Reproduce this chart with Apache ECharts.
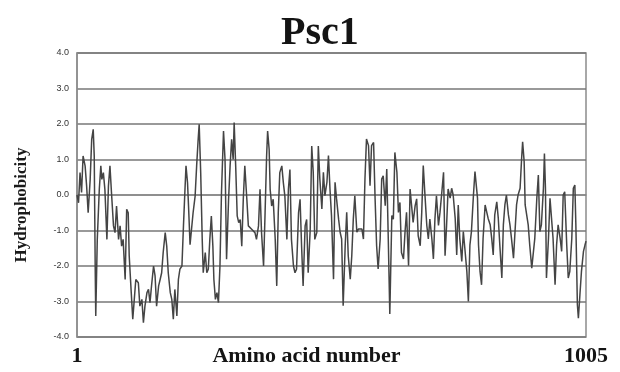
<!DOCTYPE html>
<html>
<head>
<meta charset="utf-8">
<script src="https://cdn.jsdelivr.net/npm/echarts@6/dist/echarts.min.js"></script>
<style>html,body{margin:0;padding:0;background:#fff;}#c{width:620px;height:372px;}</style>
</head>
<body>
<div id="c"></div>
<script>
const titleText = 'Psc1';
const xName = 'Amino acid number';
const yName = 'Hydrophobicity';
const xTickValues = [1, 1005];
const yTicks = [-4, -3, -2, -1, 0, 1, 2, 3, 4];

const residues = [
1,4,7,10,13,17,20,23,27,30,33,35,37,38,41,45,48,50,53,56,60,63,66,69,73,76,79,83,86,89,92,96,99,102,104,108,111,114,117,122,125,129,132,135,139,142,145,148,152,155,158,162,165,168,171,175,178,181,185,188,191,194,198,201,204,208,211,214,216,219,221,224,227,230,234,237,240,242,
245,248,250,254,257,260,263,266,269,271,274,277,280,283,286,290,293,296,300,303,306,309,311,314,317,320,323,326,329,332,336,339,342,346,349,352,355,359,362,365,369,372,375,377,380,382,385,388,392,395,398,401,405,408,411,415,418,421,424,428,431,434,438,441,444,447,451,454,457,461,464,467,470,474,477,
480,484,487,490,494,497,500,503,507,510,513,517,520,523,526,530,533,536,540,543,546,549,553,556,559,563,566,569,572,576,579,582,586,589,592,595,599,602,605,609,612,615,618,622,625,628,632,635,638,641,645,648,651,655,658,661,664,668,671,674,678,681,684,687,691,694,697,701,704,707,710,714,717,720,724,727,730,733,
737,740,743,747,750,753,756,760,763,766,770,773,776,779,783,786,788,791,793,796,799,802,806,809,812,816,819,822,825,829,832,835,839,842,845,848,852,855,858,862,865,868,871,875,878,880,883,885,888,891,894,898,901,904,908,911,914,917,921,923,925,927,931,934,937,940,944,947,950,954,957,960,963,967,970,973,977,980,983,985,988,990,993,996,1000,1003,1005
];
const hydro = [
0.0,-0.22,0.63,0.07,1.10,0.82,0.25,-0.50,0.44,1.57,1.85,1.10,-2.19,-3.41,-1.25,0.16,0.82,0.44,0.63,0.16,-1.25,0.25,0.82,0.07,-0.87,-1.06,-0.31,-1.25,-0.87,-1.44,-1.25,-2.38,-0.40,-0.50,-1.72,-2.75,-3.50,-2.94,-2.38,-2.47,-3.13,-2.94,-3.60,-3.13,-2.75,-2.66,-3.03,-2.56,-2.00,-2.28,-3.13,-2.56,-2.38,-2.19,-1.62,-1.06,-1.44,-2.19,-2.75,-2.94,-3.50,-2.66,-3.41,-2.38,-2.09,-2.00,-0.87,0.16,0.82,0.35,-0.31,-1.40,-1.44,-0.50,-0.03,0.82,1.57,1.99,
0.63,-1.25,-2.19,-1.62,-2.19,-2.09,-1.25,-0.59,-1.44,-2.38,-2.94,-2.75,-3.03,-2.00,0.07,1.80,1.00,-1.81,-0.12,0.82,1.57,1.00,2.04,0.82,-0.59,-0.78,-0.69,-1.44,-0.12,0.82,-0.12,-0.87,-0.87,-0.97,-0.97,-1.06,-1.25,-0.87,0.16,-1.06,-2.00,-0.50,1.10,1.80,1.29,0.16,-0.31,-0.12,-1.25,-2.56,-0.50,0.63,0.82,0.35,-0.03,-1.25,0.16,0.72,-1.25,-2.00,-2.19,-2.09,-0.50,-0.12,-1.44,-2.56,-0.87,-0.69,-2.19,-0.97,1.38,0.63,-1.25,-1.06,1.38,
0.45,-0.39,0.64,-0.02,0.36,1.11,0.17,-0.58,-2.37,0.36,-0.11,-0.68,-1.05,-1.24,-3.12,-1.43,-0.49,-1.71,-2.37,-1.71,-0.68,-0.02,-1.05,-0.96,-0.96,-0.96,-1.24,0.45,1.58,1.39,0.26,1.39,1.48,-0.11,-1.43,-2.08,-1.24,0.45,0.54,-0.30,0.73,-1.24,-3.35,-0.58,-0.68,1.20,0.64,-0.49,-0.21,-1.62,-1.80,-1.05,-0.49,-1.99,0.17,0.17,-0.77,-0.30,-0.11,-1.15,-1.43,-0.49,0.83,0.08,-0.86,-1.24,-0.68,-1.24,-1.80,-0.68,-0.02,-0.86,-0.49,-0.02,0.64,-1.71,-0.86,0.17,
-0.09,0.19,0.00,-0.66,-1.69,-0.28,-1.22,-1.87,-1.03,-1.50,-2.16,-3.00,-1.41,-1.03,0.00,0.66,0.70,-0.09,-1.41,-2.16,-2.53,-1.22,-0.28,-0.28,-0.66,-0.84,-1.22,-1.69,-0.56,-0.19,-0.66,-1.41,-2.34,-0.84,-0.28,0.00,-0.56,-0.84,-1.22,-1.78,-1.03,-0.28,0.00,0.19,1.03,1.50,0.94,-0.28,-0.56,-0.84,-1.41,-2.06,-2.06,-1.22,-0.09,0.56,-1.03,-0.84,0.19,1.17,0.19,-2.34,-1.22,-0.09,-0.66,-1.22,-2.53,-1.41,-0.84,-1.22,-1.59,0.00,0.09,-1.41,-2.34,-2.16,-1.22,0.19,0.28,-0.84,-3.09,-3.47,-2.81,-2.16,-1.59,-1.41,-1.30
];

const seriesData = residues.map((r, i) => [r, hydro[i]]);
const serif = 'Liberation Serif';

const chart = echarts.init(document.getElementById('c'), null, {renderer: 'canvas'});
chart.setOption({
  animation: false,
  backgroundColor: '#ffffff',
  title: {
    text: titleText, left: 276, top: 9,
    textStyle: {fontFamily: serif, fontWeight: 'bold', fontSize: 40, color: '#141414'}
  },
  grid: {left: 77, right: 34, top: 53, bottom: 35, containLabel: false, outerBoundsMode: 'none',
         show: true, borderColor: '#8c8c8c', borderWidth: 1.5, backgroundColor: '#ffffff'},
  xAxis: {
    type: 'value', min: 1, max: 1005,
    name: xName, nameLocation: 'middle', nameGap: 8, nameMoveOverlap: false,
    nameTextStyle: {fontFamily: serif, fontWeight: 'bold', fontSize: 22, color: '#141414',
                    verticalAlign: 'top', padding: [0, 50, 0, 0]},
    axisLine: {show: true, lineStyle: {color: '#8c8c8c', width: 1.5}},
    axisTick: {show: false},
    splitLine: {show: false},
    axisLabel: {
      customValues: xTickValues, margin: 8,
      fontFamily: serif, fontWeight: 'bold', fontSize: 22, color: '#141414',
      formatter: v => String(v)
    }
  },
  yAxis: {
    type: 'value', min: -4, max: 4, interval: 1,
    name: yName, nameLocation: 'middle', nameRotate: 90, nameGap: 47, nameMoveOverlap: false,
    nameTextStyle: {fontFamily: serif, fontWeight: 'bold', fontSize: 17, color: '#1a1a1a', padding: [0, 20, 0, 0]},
    axisLine: {show: true, lineStyle: {color: '#8c8c8c', width: 1.5}},
    axisTick: {show: false},
    axisLabel: {margin: 8, fontFamily: 'Liberation Sans', fontSize: 9, color: '#333', formatter: v => v.toFixed(1)},
    splitLine: {show: true, lineStyle: {color: '#777777', width: 1.6}}
  },
  series: [{
    type: 'line', data: seriesData, symbol: 'none', smooth: false,
    lineStyle: {color: '#444444', width: 1.5}
  }]
});
</script>
</body>
</html>
